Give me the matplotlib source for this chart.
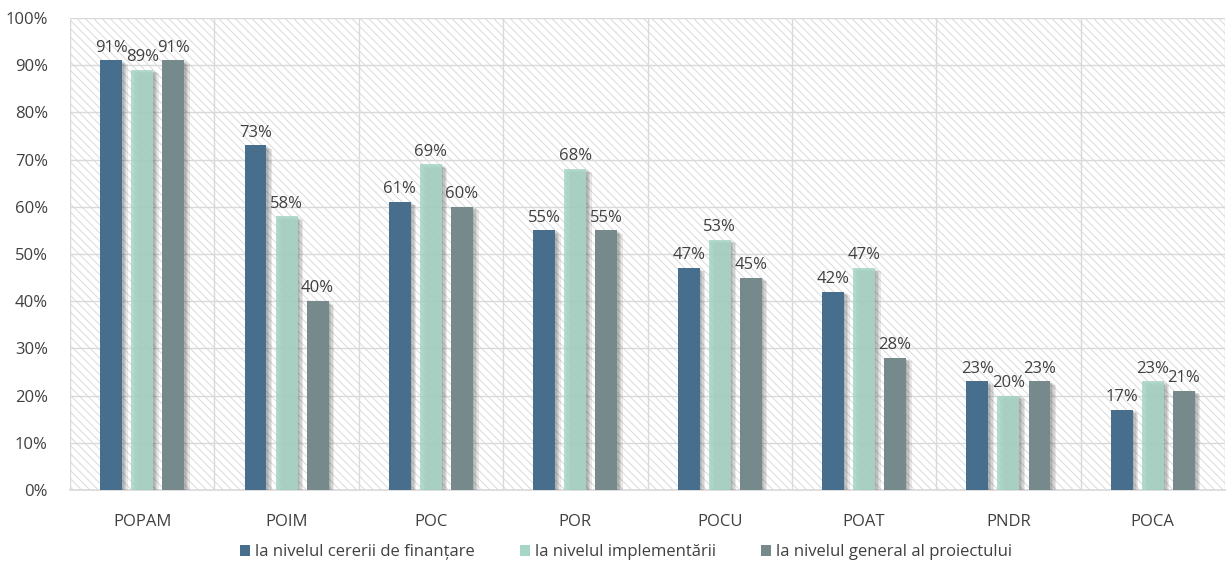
import numpy as np
import matplotlib
matplotlib.use("Agg")
import matplotlib.pyplot as plt
import matplotlib.ticker as ticker
import matplotlib.patheffects as pe
from matplotlib.patches import Rectangle

programe = ["POPAM", "POIM", "POC", "POR", "POCU", "POAT", "PNDR", "POCA"]
cerere = [91, 73, 61, 55, 47, 42, 23, 17]
implementare = [89, 58, 69, 68, 53, 47, 20, 23]
general = [91, 40, 60, 55, 45, 28, 23, 21]

serii = ["la nivelul cererii de finanțare", "la nivelul implementării",
         "la nivelul general al proiectului"]
culori = ["#486E8E", "#A6D6C6", "#768A8B"]

plt.rcParams['font.family'] = ['Open Sans', 'DejaVu Sans']
plt.rcParams['hatch.linewidth'] = 0.7
plt.rcParams['hatch.color'] = '#DADADA'
text_color = '#404040'

fig = plt.figure(figsize=(12.27, 5.63), dpi=100)
ax = fig.add_axes([70 / 1227, 1 - 490 / 563, 1155 / 1227, 472 / 563])

# hatched background of the plot area
ax.add_patch(Rectangle((0, 0), 1, 1, transform=ax.transAxes, facecolor='white',
                       edgecolor='#DADADA', hatch='\\\\\\\\', linewidth=0, zorder=0))

x = np.arange(len(programe))
width = 0.152
step = 0.215
# soft shadow built from a few stacked, offset copies
umbra = [pe.SimplePatchShadow(offset=(o, -o * 0.6), shadow_rgbFace='#444444', alpha=0.12)
         for o in (4, 3, 2, 1)] + [pe.Normal()]

for i, (vals, col) in enumerate(zip([cerere, implementare, general], culori)):
    pos = x + (i - 1) * step
    alpha = 0.85 if i == 1 else 1.0
    bars = ax.bar(pos, vals, width, color=col, alpha=alpha, label=serii[i], zorder=3)
    for b in bars:
        b.set_path_effects(umbra)
    for p, v in zip(pos, vals):
        ax.text(p, v + 1.0, f"{v}%", ha='center', va='bottom', fontsize=12,
                color=text_color, zorder=5)

ax.set_xlim(-0.5, len(programe) - 0.5)
ax.set_ylim(0, 100)
ax.yaxis.set_major_locator(ticker.MultipleLocator(10))
ax.yaxis.set_major_formatter(ticker.FuncFormatter(lambda v, _: f"{int(v)}%"))
ax.set_xticks(x)
ax.set_xticklabels(programe)
ax.tick_params(axis='both', length=0, labelsize=12, labelcolor=text_color)
ax.tick_params(axis='x', pad=17)
ax.tick_params(axis='y', pad=16)

# grid lines: horizontal every 10%, vertical between categories
for yv in range(10, 101, 10):
    ax.axhline(yv, color='#D9D9D9', linewidth=1, zorder=1)
for xv in np.arange(-0.5, len(programe), 1.0):
    ax.axvline(xv, color='#D9D9D9', linewidth=1, zorder=1)

for s in ['top', 'left', 'right']:
    ax.spines[s].set_visible(False)
ax.spines['bottom'].set_color('#D9D9D9')
ax.spines['bottom'].set_linewidth(1.2)

leg = fig.legend(loc='lower center', bbox_to_anchor=(0.51, -0.022), ncol=3, frameon=False,
                 fontsize=12, handlelength=0.6, handleheight=0.6, handletextpad=0.3,
                 columnspacing=2.7)
for h in leg.legend_handles:
    h.set_path_effects([])
    h.set_alpha(1.0)
for t in leg.get_texts():
    t.set_color(text_color)

fig.savefig("out.png", dpi=100)
